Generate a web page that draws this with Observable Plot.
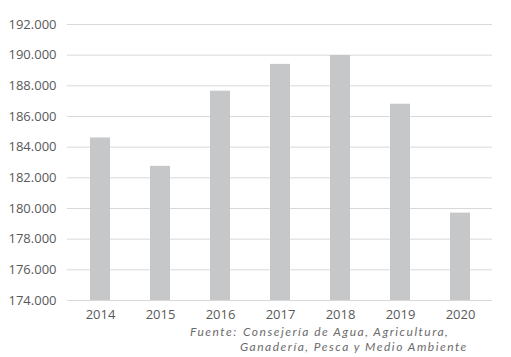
<!DOCTYPE html>
<html><head><meta charset="utf-8">
<script src="https://cdn.jsdelivr.net/npm/d3@7"></script>
<script src="https://cdn.jsdelivr.net/npm/@observablehq/plot@0.6"></script>
<style>
body{margin:0;background:#fff;font-family:"Open Sans",sans-serif;}
#wrap{position:relative;width:511px;height:357px;}
.cap{position:absolute;font-family:Lato,sans-serif;font-style:italic;font-size:12px;letter-spacing:1.5px;color:#6b6b6b;line-height:14px;white-space:nowrap;}
</style></head>
<body><div id="wrap"><div id="chart"></div>
<div class="cap" style="left:190px;top:325px;">Fuente:</div>
<div class="cap" style="left:243px;top:325px;">Consejería de Agua, Agricultura,</div>
<div class="cap" style="left:240px;top:339.6px;">Ganadería, Pesca y Medio Ambiente</div>
</div>
<script>
const years = ["2014","2015","2016","2017","2018","2019","2020"];
const values = [184600, 182750, 187650, 189400, 189980, 186800, 179700];
const yTicks = [174000,176000,178000,180000,182000,184000,186000,188000,190000,192000];
const data = years.map((y,i)=>({year:y, value:values[i]}));
const fmt = d => d3.format(",")(d).replace(/,/g,".");
const chart = Plot.plot({
  width:511, height:322,
  marginTop:24, marginBottom:22, marginLeft:67, marginRight:19,
  style:{fontFamily:"Open Sans, sans-serif", fontSize:"13px", color:"#595959", background:"#fff"},
  x:{domain:years, paddingInner:0.67, paddingOuter:0.335, label:null, tickSize:0, tickPadding:9},
  y:{domain:[174000,192000], ticks:yTicks, tickFormat:fmt, label:null, tickSize:0, tickPadding:11, clamp:true},
  marks:[
    Plot.gridY(yTicks, {stroke:"#d9d9d9", strokeOpacity:1, strokeWidth:1}),
    Plot.barY(data, {x:"year", y1:174000, y2:"value", fill:"#c6c7c8"})
  ]
});
document.getElementById("chart").appendChild(chart);
</script></body></html>
